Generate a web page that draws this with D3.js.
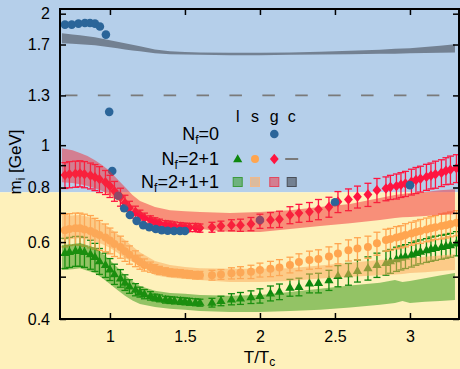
<!DOCTYPE html>
<html>
<head>
<meta charset="utf-8">
<script src="https://cdn.jsdelivr.net/npm/d3@7"></script>
<style>
  body { margin: 0; background: #fff; }
  svg { display: block; font-family: "Liberation Sans", Arial, Helvetica, sans-serif; }
</style>
</head>
<body>
<svg id="chart" width="460" height="369"></svg>
<script>
// ---- Nf=2+1 points (l, s, g), shared temperatures ----
var temps = [0.70, 0.73, 0.77, 0.80, 0.83, 0.87, 0.90, 0.93, 0.97, 1.00, 1.03, 1.07, 1.10, 1.13, 1.17, 1.20, 1.23, 1.27, 1.30, 1.33,
  1.37, 1.40, 1.43, 1.47, 1.50, 1.53, 1.57, 1.60,
  1.68, 1.74, 1.81, 1.87, 1.94, 2.00, 2.07, 2.13, 2.20, 2.26, 2.33, 2.39, 2.46, 2.52, 2.59, 2.65, 2.72, 2.78,
  2.84, 2.87, 2.91, 2.94, 2.97, 3.01, 3.04, 3.07, 3.11, 3.14, 3.17, 3.21, 3.24, 3.27, 3.31];

var mLight = [0.567, 0.570, 0.573, 0.573, 0.570, 0.563, 0.555, 0.543, 0.532, 0.520, 0.507, 0.496, 0.485, 0.475, 0.467, 0.461, 0.456, 0.452, 0.448, 0.446,
  0.443, 0.442, 0.441, 0.440, 0.439, 0.438, 0.437, 0.436,
  0.436, 0.440, 0.444, 0.446, 0.449, 0.452, 0.458, 0.462, 0.472, 0.474, 0.483, 0.484, 0.491, 0.502, 0.507, 0.516, 0.523, 0.532,
  0.538, 0.543, 0.549, 0.553, 0.557, 0.562, 0.567, 0.571, 0.575, 0.579, 0.582, 0.585, 0.588, 0.591, 0.596];
var errLight = [0.045, 0.045, 0.045, 0.045, 0.045, 0.043, 0.041, 0.037, 0.034, 0.030, 0.027, 0.023, 0.020, 0.017, 0.015, 0.012, 0.011, 0.010, 0.008, 0.008,
  0.008, 0.008, 0.008, 0.008, 0.008, 0.008, 0.008, 0.008,
  0.010, 0.011, 0.013, 0.014, 0.015, 0.017, 0.018, 0.019, 0.021, 0.022, 0.024, 0.025, 0.026, 0.028, 0.029, 0.030, 0.032, 0.034,
  0.034, 0.034, 0.035, 0.035, 0.035, 0.036, 0.036, 0.036, 0.036, 0.037, 0.037, 0.037, 0.037, 0.037, 0.038];

var mStrange = [0.639, 0.643, 0.645, 0.645, 0.641, 0.636, 0.629, 0.623, 0.615, 0.605, 0.594, 0.585, 0.572, 0.561, 0.550, 0.540, 0.532, 0.526, 0.521, 0.517,
  0.514, 0.511, 0.510, 0.509, 0.507, 0.506, 0.504, 0.504,
  0.504, 0.506, 0.509, 0.511, 0.513, 0.518, 0.521, 0.525, 0.532, 0.540, 0.546, 0.549, 0.556, 0.565, 0.575, 0.580, 0.585, 0.596,
  0.607, 0.610, 0.615, 0.618, 0.623, 0.628, 0.633, 0.636, 0.641, 0.645, 0.649, 0.653, 0.656, 0.660, 0.664];
var errStrange = [0.054, 0.054, 0.054, 0.054, 0.054, 0.054, 0.051, 0.049, 0.045, 0.041, 0.038, 0.034, 0.030, 0.027, 0.023, 0.020, 0.017, 0.014, 0.012, 0.011,
  0.010, 0.010, 0.010, 0.010, 0.010, 0.010, 0.010, 0.010,
  0.013, 0.013, 0.015, 0.016, 0.018, 0.019, 0.021, 0.022, 0.022, 0.024, 0.026, 0.027, 0.029, 0.030, 0.032, 0.034, 0.034, 0.036,
  0.035, 0.035, 0.036, 0.036, 0.038, 0.038, 0.038, 0.040, 0.040, 0.041, 0.041, 0.043, 0.043, 0.043, 0.044];

var mGlue = [0.854, 0.858, 0.860, 0.862, 0.858, 0.852, 0.845, 0.836, 0.823, 0.806, 0.785, 0.761, 0.737, 0.718, 0.703, 0.692, 0.681, 0.674, 0.667, 0.663,
  0.658, 0.656, 0.653, 0.651, 0.649, 0.648, 0.648, 0.646,
  0.649, 0.653, 0.656, 0.656, 0.660, 0.670, 0.674, 0.677, 0.692, 0.699, 0.704, 0.713, 0.722, 0.742, 0.751, 0.762, 0.771, 0.789,
  0.796, 0.802, 0.806, 0.812, 0.817, 0.825, 0.832, 0.838, 0.846, 0.852, 0.858, 0.865, 0.874, 0.879, 0.886];
var errGlue = [0.058, 0.059, 0.059, 0.059, 0.059, 0.058, 0.058, 0.057, 0.052, 0.047, 0.041, 0.036, 0.031, 0.026, 0.022, 0.018, 0.018, 0.015, 0.015, 0.014,
  0.014, 0.014, 0.014, 0.014, 0.014, 0.014, 0.014, 0.014,
  0.017, 0.017, 0.019, 0.021, 0.023, 0.025, 0.027, 0.029, 0.031, 0.033, 0.035, 0.038, 0.038, 0.041, 0.043, 0.044, 0.047, 0.050,
  0.050, 0.051, 0.053, 0.053, 0.054, 0.056, 0.057, 0.057, 0.058, 0.058, 0.061, 0.061, 0.062, 0.065, 0.065];

// ---- Nf=0 glue points ----
var tQuenched = [0.70, 0.745, 0.79, 0.833, 0.867, 0.90, 0.933, 0.973, 0.995, 1.015, 1.055, 1.095, 1.133, 1.178, 1.222, 1.262,
  1.305, 1.345, 1.385, 1.427, 1.467, 1.50, 2.00, 2.50, 3.00];
var mQuenched = [1.888, 1.888, 1.898, 1.904, 1.904, 1.898, 1.870, 1.791, 1.192, 0.873, 0.766, 0.717, 0.692, 0.671, 0.656, 0.649,
  0.643, 0.639, 0.637, 0.636, 0.636, 0.636, 0.674, 0.740, 0.810];
var errQuenched = [0.01, 0.01, 0.01, 0.01, 0.01, 0.01, 0.01, 0.01, 0.025, 0.01, 0.005, 0.005, 0.005, 0.005, 0.005, 0.005,
  0.005, 0.005, 0.005, 0.005, 0.005, 0.005, 0.005, 0.005, 0.005];

// ---- Nf=2+1+1 bands ----
var tBand = [0.68, 0.75, 0.8, 0.85, 0.9, 0.95, 1.0, 1.05, 1.1, 1.15, 1.2, 1.3, 1.4, 1.5, 1.6, 1.8, 2.0, 2.2, 2.4, 2.6, 2.8, 2.9, 2.95, 3.0, 3.1, 3.2, 3.3];
var bandLightHi = [0.591, 0.594, 0.597, 0.590, 0.582, 0.565, 0.546, 0.525, 0.504, 0.488, 0.476, 0.464, 0.459, 0.457, 0.454, 0.452, 0.454, 0.461, 0.469, 0.477, 0.484, 0.491, 0.486, 0.489, 0.496, 0.503, 0.510];
var bandLightLo = [0.518, 0.520, 0.523, 0.516, 0.510, 0.496, 0.481, 0.466, 0.452, 0.441, 0.433, 0.426, 0.422, 0.420, 0.417, 0.415, 0.415, 0.417, 0.420, 0.425, 0.431, 0.435, 0.440, 0.435, 0.438, 0.440, 0.442];
var bandStrangeHi = [0.688, 0.690, 0.692, 0.686, 0.677, 0.663, 0.646, 0.626, 0.607, 0.587, 0.569, 0.543, 0.532, 0.526, 0.523, 0.521, 0.521, 0.523, 0.530, 0.538, 0.546, 0.549, 0.550, 0.552, 0.555, 0.559, 0.563];
var bandStrangeLo = [0.607, 0.610, 0.613, 0.608, 0.603, 0.593, 0.582, 0.567, 0.552, 0.541, 0.532, 0.504, 0.497, 0.494, 0.491, 0.486, 0.486, 0.489, 0.495, 0.500, 0.504, 0.506, 0.507, 0.510, 0.512, 0.515, 0.518];
var bandGlueHi = [0.984, 0.974, 0.959, 0.944, 0.924, 0.900, 0.872, 0.836, 0.802, 0.769, 0.745, 0.722, 0.710, 0.706, 0.703, 0.699, 0.703, 0.710, 0.722, 0.733, 0.757, 0.769, 0.773, 0.777, 0.781, 0.789, 0.793];
var bandGlueLo = [0.823, 0.819, 0.814, 0.806, 0.797, 0.785, 0.769, 0.749, 0.729, 0.710, 0.695, 0.674, 0.663, 0.656, 0.643, 0.633, 0.633, 0.643, 0.653, 0.663, 0.674, 0.681, 0.684, 0.685, 0.688, 0.692, 0.695];
var bandCharmHi = [1.803, 1.793, 1.784, 1.775, 1.766, 1.752, 1.738, 1.724, 1.711, 1.697, 1.684, 1.657, 1.640, 1.634, 1.631, 1.627, 1.627, 1.631, 1.636, 1.644, 1.653, 1.662, 1.664, 1.666, 1.678, 1.690, 1.702];
var bandCharmLo = [1.711, 1.706, 1.702, 1.697, 1.693, 1.684, 1.675, 1.666, 1.657, 1.648, 1.640, 1.623, 1.614, 1.612, 1.610, 1.606, 1.606, 1.610, 1.612, 1.614, 1.619, 1.619, 1.621, 1.623, 1.626, 1.628, 1.631];

var charmLine = 1.3;     // Nf=2+1 c
var splitMass = 0.78;    // background colour change
var xTicks = [1, 1.5, 2, 2.5, 3];
var yTicks = [0.4, 0.5, 0.6, 0.7, 0.8, 0.9, 1, 1.3, 1.7, 2];
var yLabeled = [0.4, 0.6, 0.8, 1, 1.3, 1.7, 2];
var columns = ['l', 's', 'g', 'c'];

var W = 460, H = 369;
var plot = { left: 60, right: 459, top: 9, bottom: 319 };

var colLight = '#0e870e', colStrange = '#ffa54f', colGlue = '#ff1440', colQuenched = '#2b6599';

var svg = d3.select('#chart');
var x = d3.scaleLinear().domain([0.667, 3.327]).range([plot.left, plot.right]);
var y = d3.scaleLog().domain([0.4, 2.05]).range([plot.bottom, plot.top]);

// background
svg.append('rect').attr('x', 0).attr('y', 0).attr('width', W).attr('height', y(splitMass)).attr('fill', '#b5cfea');
svg.append('rect').attr('x', 0).attr('y', y(splitMass)).attr('width', W).attr('height', H - y(splitMass)).attr('fill', '#fef1bb');

svg.append('clipPath').attr('id', 'clip').append('rect')
  .attr('x', plot.left).attr('y', plot.top)
  .attr('width', plot.right - plot.left).attr('height', plot.bottom - plot.top);
var g = svg.append('g').attr('clip-path', 'url(#clip)');

// dashed c line
g.append('line')
  .attr('x1', x(temps[0])).attr('x2', plot.right)
  .attr('y1', y(charmLine)).attr('y2', y(charmLine))
  .attr('stroke', '#7a7a7a').attr('stroke-width', 1.6)
  .attr('stroke-dasharray', '12.5,20.4');

var triPath = 'M0,-4.8L4.6,3.2L-4.6,3.2Z';
var diaPath = 'M0,-5.2L4.4,0L0,5.2L-4.4,0Z';

function drawSeries(ts, ms, es, color, shape) {
  var pts = ts.map(function (t, i) { return { t: t, m: ms[i], e: es[i] }; });
  var grp = g.append('g');
  var bars = grp.selectAll('.eb').data(pts).enter().append('g')
    .attr('stroke', color).attr('stroke-width', 1.3);
  bars.append('line')
    .attr('x1', function (d) { return x(d.t); }).attr('x2', function (d) { return x(d.t); })
    .attr('y1', function (d) { return y(d.m - d.e); }).attr('y2', function (d) { return y(d.m + d.e); });
  [-1, 1].forEach(function (s) {
    bars.append('line')
      .attr('x1', function (d) { return x(d.t) - 3.5; }).attr('x2', function (d) { return x(d.t) + 3.5; })
      .attr('y1', function (d) { return y(d.m + s * d.e); }).attr('y2', function (d) { return y(d.m + s * d.e); });
  });
  if (shape === 'circle') {
    grp.selectAll('.pt').data(pts).enter().append('circle')
      .attr('cx', function (d) { return x(d.t); }).attr('cy', function (d) { return y(d.m); })
      .attr('r', 4).attr('fill', color);
  } else {
    grp.selectAll('.pt').data(pts).enter().append('path')
      .attr('d', shape === 'tri' ? triPath : diaPath)
      .attr('transform', function (d) { return 'translate(' + x(d.t) + ',' + y(d.m) + ')'; })
      .attr('fill', color);
  }
}

drawSeries(temps, mLight, errLight, colLight, 'tri');
drawSeries(temps, mStrange, errStrange, colStrange, 'circle');
drawSeries(temps, mGlue, errGlue, colGlue, 'dia');

// Nf=0
var qpts = tQuenched.map(function (t, i) { return { t: t, m: mQuenched[i], e: errQuenched[i] }; });
g.append('g').selectAll('line').data(qpts).enter().append('line')
  .attr('x1', function (d) { return x(d.t); }).attr('x2', function (d) { return x(d.t); })
  .attr('y1', function (d) { return y(d.m - d.e); }).attr('y2', function (d) { return y(d.m + d.e); })
  .attr('stroke', colQuenched).attr('stroke-width', 1.3);
g.append('g').selectAll('circle').data(qpts).enter().append('circle')
  .attr('cx', function (d) { return x(d.t); }).attr('cy', function (d) { return y(d.m); })
  .attr('r', 4.3).attr('fill', colQuenched);

// Nf=2+1+1 bands
var area = d3.area()
  .x(function (d) { return x(d.t); })
  .y0(function (d) { return y(d.lo); })
  .y1(function (d) { return y(d.hi); });
function band(hi, lo, fill) {
  var d = tBand.map(function (t, i) { return { t: t, hi: hi[i], lo: lo[i] }; });
  g.append('path').datum(d).attr('d', area).attr('fill', fill);
}
band(bandLightHi, bandLightLo, 'rgba(40,150,15,0.5)');
band(bandStrangeHi, bandStrangeLo, 'rgba(250,172,95,0.55)');
band(bandGlueHi, bandGlueLo, 'rgba(242,45,55,0.5)');
band(bandCharmHi, bandCharmLo, 'rgba(75,80,92,0.62)');

// axes
function styleAxis(sel) {
  sel.select('.domain').remove();
  sel.selectAll('.tick line').attr('stroke', '#000').attr('stroke-width', 1.5);
  sel.selectAll('.tick text').attr('fill', '#000').style('font-size', '16px')
    .style('font-family', '"Liberation Sans", Arial, sans-serif');
}
var fmtY = function (d) { return yLabeled.indexOf(d) >= 0 ? String(d) : ''; };
svg.append('g').attr('transform', 'translate(0,' + plot.bottom + ')')
  .call(d3.axisBottom(x).tickValues(xTicks).tickSizeInner(-6).tickSizeOuter(0).tickPadding(12).tickFormat(d3.format('')))
  .call(styleAxis);
svg.append('g').attr('transform', 'translate(0,' + plot.top + ')')
  .call(d3.axisTop(x).tickValues(xTicks).tickSizeInner(-6).tickSizeOuter(0).tickFormat(''))
  .call(styleAxis);
svg.append('g').attr('transform', 'translate(' + plot.left + ',0)')
  .call(d3.axisLeft(y).tickValues(yTicks).tickSizeInner(-6).tickSizeOuter(0).tickPadding(10).tickFormat(fmtY))
  .call(styleAxis);
svg.append('g').attr('transform', 'translate(' + plot.right + ',0)')
  .call(d3.axisRight(y).tickValues(yTicks).tickSizeInner(-6).tickSizeOuter(0).tickFormat(''))
  .call(styleAxis);

svg.append('rect')
  .attr('x', plot.left).attr('y', plot.top)
  .attr('width', plot.right - plot.left).attr('height', plot.bottom - plot.top)
  .attr('fill', 'none').attr('stroke', '#000').attr('stroke-width', 2);

function subText(el, main, sub, rest, subSize, shift) {
  el.append('tspan').text(main);
  el.append('tspan').attr('font-size', subSize).attr('dy', shift).text(sub);
  el.append('tspan').attr('dy', -shift).text(rest);
}

// axis titles
var xt = svg.append('text').attr('x', (plot.left + plot.right) / 2).attr('y', 363)
  .attr('text-anchor', 'middle').attr('font-size', 17);
subText(xt, 'T/T', 'c', '', 12, 3);
var yt = svg.append('text').attr('transform', 'translate(21,' + 162 + ') rotate(-90)')
  .attr('text-anchor', 'middle').attr('font-size', 17);
subText(yt, 'm', 'i', ' [GeV]', 12, 4);

// legend
var colX = [237.7, 255, 274.3, 291.7];
var rowY = [134, 159, 182];
var lg = svg.append('g');
lg.selectAll('.hd').data(columns).enter().append('text')
  .attr('x', function (d, i) { return colX[i]; }).attr('y', 122)
  .attr('text-anchor', 'middle').attr('font-size', 16).text(function (d) { return d; });
['=0', '=2+1', '=2+1+1'].forEach(function (r, i) {
  var t = lg.append('text').attr('x', 219).attr('y', rowY[i] + 5.5)
    .attr('text-anchor', 'end').attr('font-size', 18);
  subText(t, 'N', 'f', r, 12, 4);
});
lg.append('circle').attr('cx', colX[2]).attr('cy', rowY[0]).attr('r', 4.3).attr('fill', colQuenched);
lg.append('path').attr('d', triPath).attr('transform', 'translate(' + colX[0] + ',' + rowY[1] + ')').attr('fill', colLight);
lg.append('circle').attr('cx', colX[1]).attr('cy', rowY[1]).attr('r', 4).attr('fill', colStrange);
lg.append('path').attr('d', diaPath).attr('transform', 'translate(' + colX[2] + ',' + rowY[1] + ')').attr('fill', colGlue);
lg.append('line').attr('x1', colX[3] - 6.5).attr('x2', colX[3] + 6.5).attr('y1', rowY[1]).attr('y2', rowY[1])
  .attr('stroke', '#7a7a7a').attr('stroke-width', 2);
var sq = [['rgba(40,150,15,0.5)', '#3c9a3c'], ['rgba(250,172,95,0.55)', '#f0b88a'],
  ['rgba(242,45,55,0.5)', '#e2485e'], ['rgba(75,80,92,0.62)', '#4a4f58']];
sq.forEach(function (c, i) {
  lg.append('rect').attr('x', colX[i] - 4.5).attr('y', rowY[2] - 4.5).attr('width', 9).attr('height', 9)
    .attr('fill', c[0]).attr('stroke', c[1]).attr('stroke-width', 1);
});
</script>
</body>
</html>
